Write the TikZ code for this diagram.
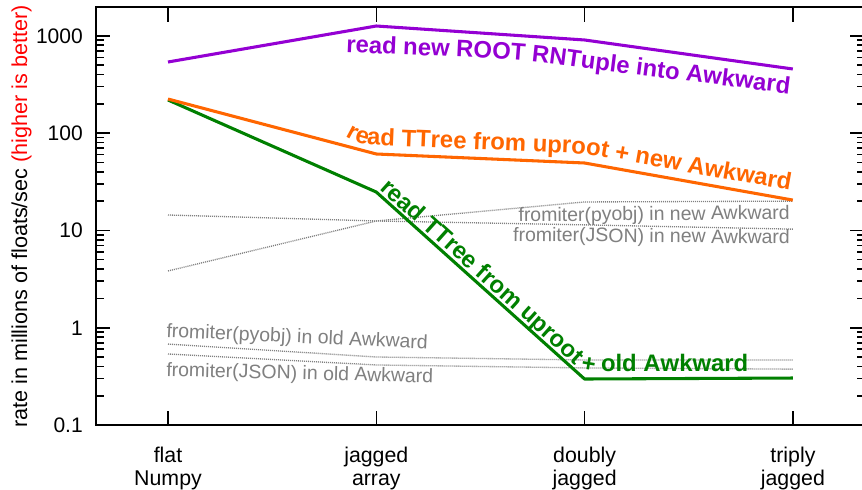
\documentclass[tikz,border=0pt]{standalone}
\usepackage{fontspec}
\setmainfont{Liberation Sans}
\usepackage{xcolor}
\usetikzlibrary{decorations.text}
\definecolor{rntuple}{RGB}{148,0,211}
\definecolor{newawk}{RGB}{255,102,0}
\definecolor{oldawk}{RGB}{0,128,0}
\definecolor{fromiter}{RGB}{128,128,128}
\newcommand{\serieslabelfont}{\fontsize{17.9}{20}\selectfont\bfseries}
\tikzset{
  frame/.style={draw=black, line width=1.5pt},
  tickline/.style={line width=1.2pt},
  series/.style={line width=2.3pt, line join=round},
  fromiterline/.style={draw=fromiter, line width=1pt, dash pattern=on 0.75pt off 0.75pt},
  ticklabel/.style={font=\fontsize{15.75}{18}\selectfont, inner sep=0pt, anchor=base east},
  catlabel/.style={font=\fontsize{16}{17.25}\selectfont, align=center, inner sep=0pt, anchor=north},
  axislabel/.style={font=\fontsize{16.2}{18}\selectfont, inner sep=0pt, rotate=90, anchor=base},
  fromiterlabel/.style={font=\fontsize{14.6}{16}\selectfont, text=fromiter, inner sep=0pt},
}
\begin{document}
\begin{tikzpicture}[x=0.75pt, y=-0.75pt]
  % canvas in pixels, y down
  \useasboundingbox (0,0) rectangle (862,489);
  \fill[white] (0,0) rectangle (862,489);

  % log ticks
  \foreach \d in {-1,0,1,2} {
    \foreach \m in {2,...,9} {
      \pgfmathsetmacro{\ty}{327.7-97.3*(\d+log10(\m))}
      \draw[tickline] (96,\ty) -- (104,\ty);
      \draw[tickline] (862,\ty) -- (857,\ty);
    }
  }
  \foreach \lab/\d in {0.1/-1, 1/0, 10/1, 100/2, 1000/3} {
    \pgfmathsetmacro{\ty}{327.7-97.3*\d}
    \draw[tickline] (96,\ty) -- (110,\ty);
    \draw[tickline] (862,\ty) -- (850,\ty);
    \node[ticklabel] (ytick\d) at (83,\ty+7.5) {\lab};
  }
  \foreach \i/\lineA/\lineB in {0/flat/Numpy, 1/jagged/array, 2/doubly/jagged, 3/triply/jagged} {
    \pgfmathsetmacro{\tx}{168+208.3*\i}
    \draw[tickline] (\tx,425) -- (\tx,411);
    \draw[tickline] (\tx,7) -- (\tx,22);
    \node[catlabel] (cat\i) at (\tx,447) {\lineA\\\lineB};
  }
  \draw[frame] (96,7) rectangle (863.5,425);

  \node[axislabel] (ylabel) at (27,216.5) {rate in millions of floats/sec \textcolor{red}{(higher is better)}};

  % data: x = category, y = log10(rate)
  \begin{scope}[shift={(168,327.7)}, x=156.2pt, y=72.975pt]
    \draw[fromiterline] (0,{log10(3.83)}) -- (1,{log10(12.5)}) -- (2,{log10(19.6)}) -- (3,{log10(20.0)});
    \draw[fromiterline] (0,{log10(14.4)}) -- (1,{log10(12.5)}) -- (2,{log10(11.4)}) -- (3,{log10(10.3)});
    \draw[fromiterline] (0,{log10(0.679)}) -- (1,{log10(0.50)}) -- (2,{log10(0.466)}) -- (3,{log10(0.466)});
    \draw[fromiterline] (0,{log10(0.537)}) -- (1,{log10(0.414)}) -- (2,{log10(0.386)}) -- (3,{log10(0.375)});
    \draw[series, oldawk] (0,{log10(219)}) -- (1,{log10(24.8)}) -- (2,{log10(0.297)}) -- (3,{log10(0.304)});
    \draw[series, newawk] (0,{log10(224)}) -- (1,{log10(61)}) -- (2,{log10(49.3)}) -- (3,{log10(20.5)});
    \draw[series, rntuple] (0,{log10(538)}) -- (1,{log10(1261)}) -- (2,{log10(906)}) -- (3,{log10(456)});
  \end{scope}

  % labels of the fromiter lines
  \node[fromiterlabel, anchor=base east, rotate=0.6] (pyobjnew) at (790,219) {fromiter(pyobj) in new Awkward};
  \node[fromiterlabel, anchor=base east, rotate=-0.6] (jsonnew) at (790,244) {fromiter(JSON) in new Awkward};
  \node[fromiterlabel, anchor=base west, rotate=-2.6] (pyobjold) at (166,337) {fromiter(pyobj) in old Awkward};
  \node[fromiterlabel, anchor=base west, rotate=-1.5] (jsonold) at (166,376) {fromiter(JSON) in old Awkward};

  % labels that follow the series (baselines)
  \path[decorate, decoration={text along path, text align=left, text color=rntuple,
      text={|\serieslabelfont|read new ROOT RNTuple into Awkward}}]
    (346,52) -- (470,57.5) .. controls (520,60) and (540,62) .. (575,67) -- (830,99);
  \path[decorate, decoration={text along path, text align=left, text color=newawk,
      text={|\serieslabelfont|read TTree from uproot + new Awkward}}]
    (346,136.5) .. controls (354,141) and (360,144.5) .. (372,145) -- (560,152.9)
    .. controls (580,153.7) and (590,154.5) .. (610,158.4) -- (830,197.6);
  \path[decorate, decoration={text along path, text align=left, text color=oldawk,
      text={|\serieslabelfont|read TTree from uproot + old Awkward}}]
    (379,189) -- (570,360.5) .. controls (577,367) and (582,371.5) .. (592,371.5) -- (840,371.5);
\end{tikzpicture}
\end{document}
